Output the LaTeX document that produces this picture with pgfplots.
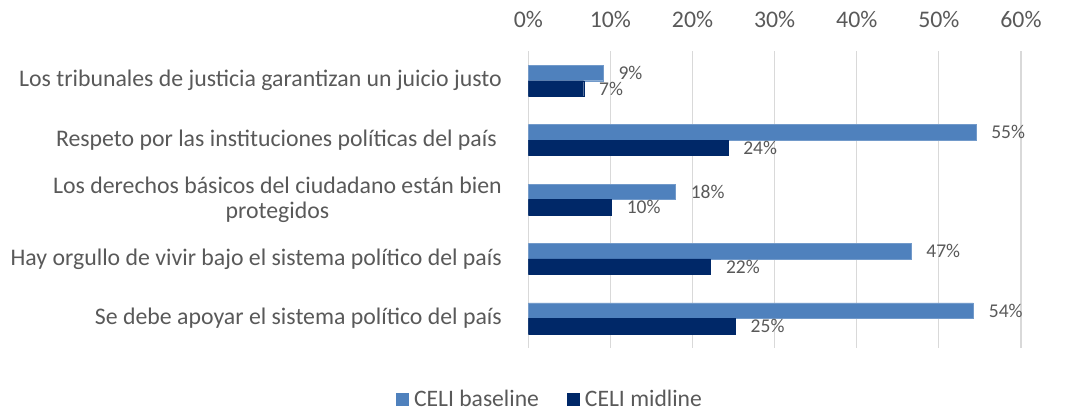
\documentclass[border=0pt]{standalone}
\usepackage{fontspec}
\setmainfont{Carlito}
\usepackage{pgfplots}
\pgfplotsset{compat=1.18}
\definecolor{base}{HTML}{4F81BD}
\definecolor{mid}{HTML}{002868}
\definecolor{txt}{HTML}{595959}
\definecolor{gridc}{HTML}{D9D9D9}
\begin{document}
\begin{tikzpicture}
\useasboundingbox (-528.3bp,-63bp) rectangle (544.7bp,348bp);
\begin{axis}[
  at={(0,0)}, anchor=south west,
  scale only axis, width=492.7bp, height=297bp,
  xbar, bar width=15.5bp,
  xmin=0, xmax=60, ymin=-0.5, ymax=4.5, y dir=reverse,
  xtick={0,10,...,60},
  xticklabel={\pgfmathprintnumber{\tick}\%},
  xticklabel pos=top,
  ytick={0,1,2,3,4},
  yticklabels={Los tribunales de justicia garantizan un juicio justo,
    Respeto por las instituciones políticas del país\hspace{5bp},
    {Los derechos básicos del ciudadano están bien\\protegidos},
    Hay orgullo de vivir bajo el sistema político del país,
    Se debe apoyar el sistema político del país},
  yticklabel style={align=center, font=\fontsize{23.8bp}{25bp}\selectfont, text=txt, xshift=-23bp},
  xticklabel style={font=\fontsize{23.8bp}{25bp}\selectfont, text=txt, yshift=20bp},
  /pgf/number format/assume math mode=true,
  major tick length=0pt,
  axis line style={draw=none},
  xmajorgrids, grid style={gridc, line width=1.2bp},
  nodes near coords,
  point meta=explicit symbolic,
  every node near coord/.append style={font=\fontsize{19.5bp}{21bp}\selectfont, text=txt, anchor=west, xshift=12bp},
  legend columns=2,
  legend style={at={(axis description cs:0.044,-0.172)}, anchor=center, draw=none, fill=none,
    font=\fontsize{23.6bp}{25bp}\selectfont, text=txt,
    /tikz/every odd column/.append style={column sep=3bp},
    /tikz/every even column/.append style={column sep=26bp}},
  legend image code/.code={\fill[#1,draw=none] (0bp,-6.5bp) rectangle (13bp,6.5bp);},
]
\addplot[fill=base, draw=base!80!white, bar shift=7.75bp] table[meta=l] {
x y l
9.1 0 9\%
54.5 1 55\%
17.9 2 18\%
46.6 3 47\%
54.2 4 54\%
};
\addplot[fill=mid, draw=mid, bar shift=-7.75bp] table[meta=l] {
x y l
6.75 0 7\%
24.3 1 24\%
10.1 2 10\%
22.2 3 22\%
25.2 4 25\%
};
\legend{CELI baseline, CELI midline}
\end{axis}
\end{tikzpicture}
\end{document}
